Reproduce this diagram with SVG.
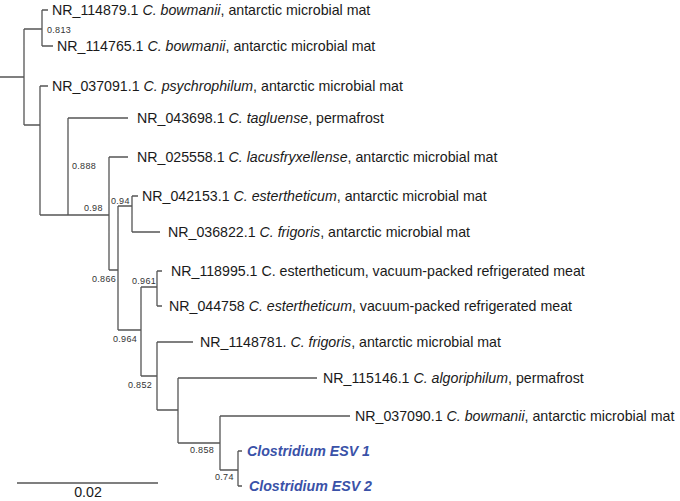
<svg xmlns="http://www.w3.org/2000/svg" width="680" height="501" viewBox="0 0 680 501">
<style>
.t{font-family:"Liberation Sans",Arial,sans-serif;font-size:14.2px;fill:#1a1a1a}
.b{font-family:"Liberation Sans",Arial,sans-serif;font-size:14.2px;fill:#3a52a8;font-weight:bold;font-style:italic}
.s{font-family:"Liberation Sans",Arial,sans-serif;font-size:9px;fill:#333;letter-spacing:0.3px}
.e{fill:none;stroke:#555;stroke-width:1.3}
</style>
<rect width="680" height="501" fill="#fff"/>
<g id="connectors" class="e">
<path d="M0,77H24M24,29V125M24,29H42M42,10V46M42,10H48M42,46H53"/>
<path d="M24,125H40M40,86V215M40,86H48M40,215H68M68,118V215M68,118H128"/>
<path d="M68,215H109M109,157V270M109,157H128M109,270H118M118,206V330M118,206H132M132,196V232M132,196H138M132,232H160"/>
<path d="M118,330H141M141,287V376M141,287H157M157,271V306M157,271H162M157,306H162"/>
<path d="M141,376H157M157,342V410M157,342H193M157,410H178M178,378V443M178,378H317M178,443H220M220,416V470M220,416H350M220,470H238M238,451V486M238,451H242M238,486H242"/>
<path d="M17,483H158"/>
</g>
<g id="labels">
<text class="s" x="47" y="33">0.813</text>
<text class="s" x="72" y="169">0.888</text>
<text class="s" x="84" y="211">0.98</text>
<text class="s" x="111" y="204">0.94</text>
<text class="s" x="92" y="282">0.866</text>
<text class="s" x="132" y="284">0.961</text>
<text class="s" x="113" y="342">0.964</text>
<text class="s" x="128" y="388">0.852</text>
<text class="s" x="190" y="453">0.858</text>
<text class="s" x="215" y="480">0.74</text>
<text class="t" x="88" y="497" text-anchor="middle" font-size="15">0.02</text>
</g>
<g id="tip1"><text class="t" x="52" y="15">NR_114879.1 <tspan font-style="italic">C. bowmanii</tspan>, antarctic microbial mat</text></g>
<g id="tip2"><text class="t" x="57" y="51">NR_114765.1 <tspan font-style="italic">C. bowmanii</tspan>, antarctic microbial mat</text></g>
<g id="tip3"><text class="t" x="52" y="91">NR_037091.1 <tspan font-style="italic">C. psychrophilum</tspan>, antarctic microbial mat</text></g>
<g id="tip4"><text class="t" x="137" y="123">NR_043698.1 <tspan font-style="italic">C. tagluense</tspan>, permafrost</text></g>
<g id="tip5"><text class="t" x="137" y="162">NR_025558.1 <tspan font-style="italic">C. lacusfryxellense</tspan>, antarctic microbial mat</text></g>
<g id="tip6"><text class="t" x="142" y="201">NR_042153.1 <tspan font-style="italic">C. estertheticum</tspan>, antarctic microbial mat</text></g>
<g id="tip7"><text class="t" x="168" y="237">NR_036822.1 <tspan font-style="italic">C. frigoris</tspan>, antarctic microbial mat</text></g>
<g id="tip8"><text class="t" x="171" y="276">NR_118995.1 C. estertheticum, vacuum-packed refrigerated meat</text></g>
<g id="tip9"><text class="t" x="169" y="311">NR_044758 <tspan font-style="italic">C. estertheticum</tspan>, vacuum-packed refrigerated meat</text></g>
<g id="tip10"><text class="t" x="200" y="347">NR_1148781. <tspan font-style="italic">C. frigoris</tspan>, antarctic microbial mat</text></g>
<g id="tip11"><text class="t" x="323" y="383">NR_115146.1 <tspan font-style="italic">C. algoriphilum</tspan>, permafrost</text></g>
<g id="tip12"><text class="t" x="355" y="421">NR_037090.1 <tspan font-style="italic">C. bowmanii</tspan>, antarctic microbial mat</text></g>
<g id="esv1"><text class="b" x="247" y="456">Clostridium ESV 1</text></g>
<g id="esv2"><text class="b" x="249" y="491">Clostridium ESV 2</text></g>
</svg>
